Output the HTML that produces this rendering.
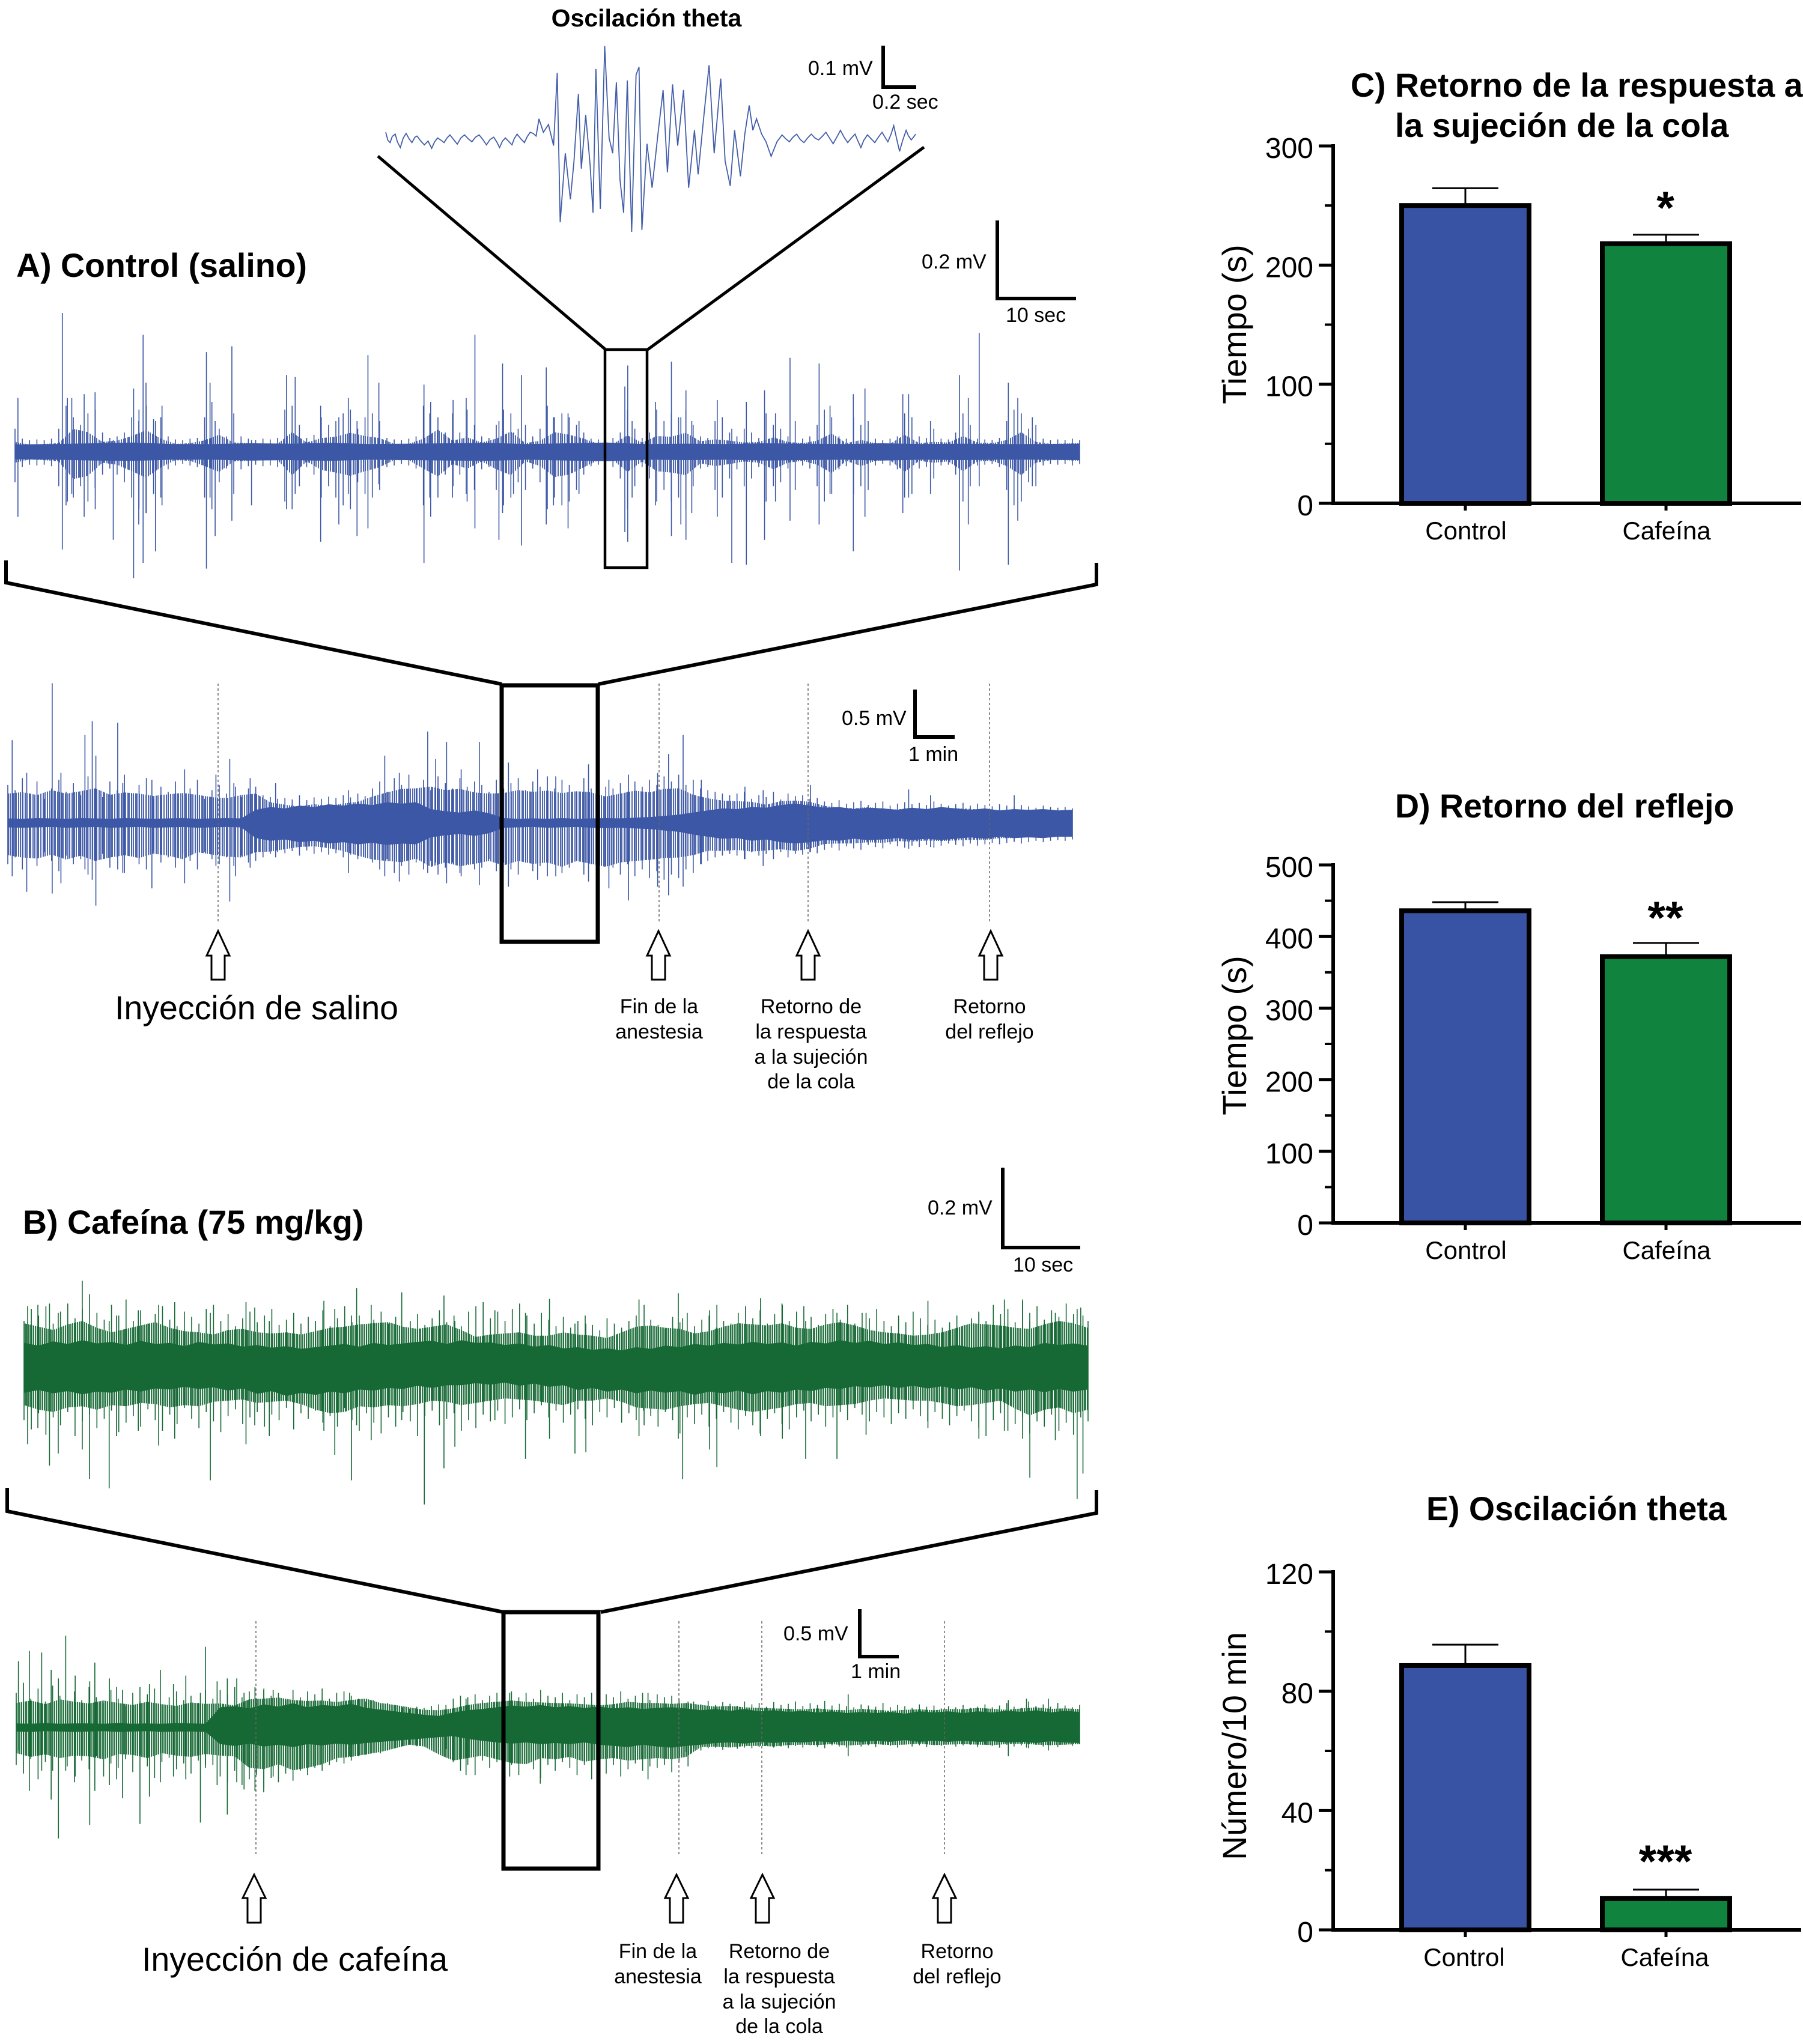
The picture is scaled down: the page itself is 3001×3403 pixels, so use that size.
<!DOCTYPE html>
<html lang="es">
<head>
<meta charset="utf-8">
<title>Oscilación theta: control y cafeína</title>
<style>
html,body{margin:0;padding:0;background:#fff}
svg{display:block}
text{font-family:"Liberation Sans",sans-serif;fill:#000}
.b{font-weight:bold;font-size:55.5px}
.s{font-size:34px}
.c{text-anchor:middle}
.big{font-size:55.5px}
.sb{fill:none;stroke:#000;stroke-width:6}
.dot{stroke:#666;stroke-width:1.5;stroke-dasharray:4 4}
.ar{fill:#fff;stroke:#000;stroke-width:3}
.bx{fill:none;stroke:#000;stroke-width:7}
.zl{fill:none;stroke:#000;stroke-width:5}
</style>
</head>
<body>
<svg id="fig" xmlns="http://www.w3.org/2000/svg" width="3001" height="3403" viewBox="0 0 3001 3403">
<defs>
<pattern id="hatchBlue" patternUnits="userSpaceOnUse" width="41" height="400"><path d="M1 0V400M4 0V400M8 0V400M10 0V400M14 0V400M17 0V400M21 0V400M23 0V400M27 0V400M31 0V400M34 0V400M38 0V400" stroke="#3c57a5" stroke-width="1.8" fill="none"/></pattern>
<pattern id="hatchGreen" patternUnits="userSpaceOnUse" width="41" height="400"><path d="M1 0V400M3 0V400M6 0V400M9 0V400M12 0V400M15 0V400M18 0V400M21 0V400M24 0V400M27 0V400M30 0V400M33 0V400M36 0V400M39 0V400" stroke="#166935" stroke-width="1.8" fill="none"/></pattern>
</defs>
<rect width="3001" height="3403" fill="#fff"/>

<g id="traces"></g>

<!-- Inset -->
<text x="1076" y="44" class="c" style="font-weight:bold;font-size:41px">Oscilación theta</text>
<path class="sb" d="M1470 76V145H1525"/>
<text x="1345" y="125" class="s">0.1 mV</text>
<text x="1452" y="181" class="s">0.2 sec</text>
<path class="zl" d="M629 260L1008 582M1538 245L1078 582"/>
<rect x="1007" y="582" width="70" height="363" fill="none" stroke="#000" stroke-width="4.5"/>

<!-- Panel A -->
<text x="27" y="461" class="b">A) Control (salino)</text>
<path class="sb" d="M1660 367V497H1791"/>
<text x="1534" y="447" class="s">0.2 mV</text>
<text x="1674" y="536" class="s">10 sec</text>
<path class="sb" d="M10 933V970L835 1139M1825 937V973L996 1139"/>
<rect class="bx" x="835" y="1141" width="160" height="427"/>
<path class="sb" d="M1523 1148V1227H1589"/>
<text x="1401" y="1207" class="s">0.5 mV</text>
<text x="1512" y="1267" class="s">1 min</text>
<g>
<line class="dot" x1="363" y1="1138" x2="363" y2="1534"/><line class="dot" x1="1097" y1="1138" x2="1097" y2="1534"/><line class="dot" x1="1345" y1="1138" x2="1345" y2="1534"/><line class="dot" x1="1647" y1="1138" x2="1647" y2="1534"/>
</g>
<polygon class="ar" points="363,1550 382,1591 374,1591 374,1631 352,1631 352,1591 344,1591"/>
<polygon class="ar" points="1096,1550 1115,1591 1107,1591 1107,1631 1085,1631 1085,1591 1077,1591"/>
<polygon class="ar" points="1345,1550 1364,1591 1356,1591 1356,1631 1334,1631 1334,1591 1326,1591"/>
<polygon class="ar" points="1649,1550 1668,1591 1660,1591 1660,1631 1638,1631 1638,1591 1630,1591"/>
<text x="191" y="1697" class="big">Inyección de salino</text>
<text class="s c" x="1097" y="1687">Fin de la<tspan x="1097" dy="42">anestesia</tspan></text>
<text class="s c" x="1350" y="1687">Retorno de<tspan x="1350" dy="42">la respuesta</tspan><tspan x="1350" dy="42">a la sujeción</tspan><tspan x="1350" dy="41">de la cola</tspan></text>
<text class="s c" x="1647" y="1687">Retorno<tspan x="1647" dy="42">del reflejo</tspan></text>

<!-- Panel B -->
<text x="38" y="2054" class="b">B) Cafeína (75 mg/kg)</text>
<path class="sb" d="M1669 1944V2077H1798"/>
<text x="1544" y="2022" class="s">0.2 mV</text>
<text x="1686" y="2117" class="s">10 sec</text>
<path class="sb" d="M12 2477V2516L838 2684M1825 2481V2519L1000 2684"/>
<rect class="bx" x="838" y="2684" width="158" height="427"/>
<path class="sb" d="M1431 2679V2758H1496"/>
<text x="1304" y="2731" class="s">0.5 mV</text>
<text x="1416" y="2794" class="s">1 min</text>
<g>
<line class="dot" x1="426" y1="2699" x2="426" y2="3088"/><line class="dot" x1="1130" y1="2699" x2="1130" y2="3088"/><line class="dot" x1="1268" y1="2699" x2="1268" y2="3088"/><line class="dot" x1="1572" y1="2699" x2="1572" y2="3088"/>
</g>
<polygon class="ar" points="423,3121 442,3160 434,3160 434,3201 412,3201 412,3160 404,3160"/>
<polygon class="ar" points="1126,3121 1145,3160 1137,3160 1137,3201 1115,3201 1115,3160 1107,3160"/>
<polygon class="ar" points="1269,3121 1288,3160 1280,3160 1280,3201 1258,3201 1258,3160 1250,3160"/>
<polygon class="ar" points="1572,3121 1591,3160 1583,3160 1583,3201 1561,3201 1561,3160 1553,3160"/>
<text x="236" y="3281" class="big">Inyección de cafeína</text>
<text class="s c" x="1095" y="3260">Fin de la<tspan x="1095" dy="42">anestesia</tspan></text>
<text class="s c" x="1297" y="3260">Retorno de<tspan x="1297" dy="42">la respuesta</tspan><tspan x="1297" dy="42">a la sujeción</tspan><tspan x="1297" dy="41">de la cola</tspan></text>
<text class="s c" x="1593" y="3260">Retorno<tspan x="1593" dy="42">del reflejo</tspan></text>

<g id="bars"></g>

<!-- Panel titles -->
<text x="2248" y="161" class="b">C) Retorno de la respuesta a</text>
<text x="2322" y="228" class="b">la sujeción de la cola</text>
<text x="2322" y="1361" class="b">D) Retorno del reflejo</text>
<text x="2374" y="2531" class="b">E) Oscilación theta</text>
</svg>

<script>
// ---------- Bar chart data ----------
const barCategories = ['Control', 'Cafeína'];
const panelCValues = [250, 218];
const panelCErrors = [14.5, 7.5];
const panelCTicks = [0, 100, 200, 300];
const panelCMinor = [50, 150, 250];
const panelCStars = '*';
const panelDValues = [436, 372];
const panelDErrors = [12, 19];
const panelDTicks = [0, 100, 200, 300, 400, 500];
const panelDMinor = [50, 150, 250, 350, 450];
const panelDStars = '**';
const panelEValues = [88.6, 10.5];
const panelEErrors = [7, 3];
const panelETicks = [0, 40, 80, 120];
const panelEMinor = [20, 60, 100];
const panelEStars = '***';

// ---------- Trace data (arbitrary amplitude units, relative to baseline) ----------
const thetaTimes = [532,535,538,541,545,548,552,556,560,564,568,572,575,580,585,590,595,599,603,608,612,616,620,625,630,635,640,645,650,655,660,665,670,675,680,684,688,692,696,700,705,708,712,717,722,726,730,734,738,742,748,755,762,767,771,778,785,790,796,800,806,812,816,820,826,832,838,843,848,853,858,863,869,875,879,883,890,897,905,912,918,925,932,940,947,955,960,968,975,982,991,997,1004,1010,1018,1024,1030,1035,1040,1047,1053,1060,1068,1075,1080,1085,1090,1095,1100,1105,1110,1115,1120,1125,1130,1135,1140,1145,1150,1155,1160,1165,1170,1175,1179,1183,1187,1192,1197,1202,1207,1212,1216,1220,1224,1228,1232,1236,1240,1245,1248,1252,1255,1258];
const thetaAmp = [17,-4,-10,6,12,-8,-23,2,14,0,-10,4,7,-6,-16,-6,-25,-8,2,-4,-10,2,10,-2,-14,2,10,0,-8,4,10,-2,-16,-2,4,-8,-23,-6,2,-6,-16,0,12,0,-10,6,17,14,7,52,17,37,-18,172,-218,-38,-158,-58,117,-78,62,-68,-193,182,-183,242,2,-38,147,-108,-193,152,-243,167,187,-238,-13,-128,12,127,-88,142,-18,127,-128,22,-93,62,192,-38,157,-58,-123,22,-98,12,87,22,52,12,-8,-46,-8,10,0,-8,4,12,-2,-10,2,12,2,-3,6,17,2,-13,4,22,4,-10,2,12,-6,-23,-4,10,0,-10,4,17,4,-8,10,34,0,-33,-6,22,8,-3,4,12];

const a1SpikeTimes = [24,85,92,98,115,130,155,183,190,196,200,213,222,283,288,295,318,345,393,405,440,465,478,490,505,520,582,590,622,640,652,685,690,705,716,750,760,780,795,858,862,868,900,922,935,942,950,985,1005,1025,1050,1065,1085,1125,1140,1172,1188,1240,1248,1278,1318,1330,1345,1385,1398,1418];
const a1SpikeUp = [140,362,140,140,150,155,30,165,80,305,180,80,120,260,180,80,275,30,200,195,120,90,140,80,252,180,175,100,135,140,305,80,230,50,200,220,90,100,80,170,225,80,130,235,90,160,80,135,60,130,160,100,245,230,120,150,165,150,150,80,200,140,310,180,140,90];
const a1SpikeDown = [170,255,130,110,170,95,230,330,190,290,160,260,140,305,120,220,180,140,150,110,235,190,110,220,200,85,290,120,90,110,200,230,160,110,245,190,140,200,110,210,235,120,140,220,190,230,160,170,290,295,230,130,180,190,110,260,170,160,120,110,310,190,90,295,180,90];
const a1DenseUp = [60,34,30,32,30,34,60,120,90,70,100,110,50,36,40,50,90,110,120,85,90,40,32,30,34,36,90,130,60,40,100,40,34,30,34,32,36,110,120,70,36,44,90,70,80,100,110,60,90,100,80,36,32,30,34,40,120,130,90,50,100,50,110,70,40,36,70,110,100,60,70,40,60,120,90,100,90,70,50,34,32,34,36,50,110,60,36,50,110,80,100,90,110,70,40,36,80,90,50,40,60,50,36,100,70,60,40,80,34,40,70,110,90,40,34,90,70,80,34,30,34,40,100,90,40,36,60,34,32,50,100,70,34,32,30,36,80,110,100,60,70,34,30,32,30,34,30];
const a1DenseDown = [80,40,34,36,34,38,90,140,120,90,130,150,60,44,60,80,120,150,160,110,120,46,36,32,36,40,120,150,80,44,110,46,38,34,38,36,40,130,150,90,40,60,120,90,120,140,150,80,110,120,100,40,36,32,36,44,140,170,120,60,120,60,130,100,46,40,100,140,120,80,100,44,80,150,120,140,130,100,60,38,34,36,40,70,150,90,40,70,130,100,130,120,150,90,44,40,100,120,70,46,90,70,40,130,90,80,44,100,36,44,90,130,110,46,38,110,90,100,36,32,36,46,120,110,44,40,70,36,34,60,130,90,36,34,32,40,100,140,130,80,90,36,32,34,32,36,32];
const a1FuzzUp = [30,22,24,26,70,60,30,34,48,66,40,24,26,35,52,28,26,24,24,60,28,42,46,58,48,42,24,24,40,68,34,44,28,40,62,26,34,60,52,40,24,24,50,28,48,46,58,32,38,34,28,30,44,30,26,34,56,26,36,26,24,52,26,30,28,48,28,26,36,60,30,24,25,26];
const a1FuzzDown = [34,24,26,30,84,74,34,40,60,80,48,26,28,44,62,30,28,26,26,72,30,56,64,74,60,48,26,26,52,76,38,52,30,54,72,30,44,78,70,48,26,26,62,30,60,64,72,36,44,38,30,34,54,34,28,40,66,28,44,28,26,62,28,34,30,60,30,28,44,72,34,26,26,28];
const a1CoreUp = [19,20,22,24,20,20,22,21,23,20,21,22,23,20,22,24,20,21,20,22,21,20,22,20,21,20,20,21];
const a1CoreDown = [20,21,23,24,21,21,23,22,24,21,22,23,24,21,23,25,21,22,21,23,22,21,23,21,22,21,21,22];

const a2SpikeTimes = [18,38,73,85,118,128,133,163,170,210,255,298,317,325,345,380,480,530,550,589,600,615,635,660,700,740,765,810,838,865,905,920,940,965,1025,1050,1115,1250,1280,1395];
const a2SpikeUp = [240,145,405,145,255,295,195,290,115,125,155,140,185,105,130,115,95,195,145,265,185,235,155,235,175,155,135,170,125,140,145,200,255,125,105,95,110,97,80,80];
const a2SpikeDown = [155,200,205,175,135,165,240,135,145,190,175,125,228,155,130,100,145,155,170,145,115,175,155,180,185,165,155,170,190,225,185,210,185,120,105,125,85,75,70,55];
const a2DenseUp = [110,95,130,85,120,70,100,125,90,115,80,135,100,75,120,95,140,85,110,130,70,105,90,120,80,100,125,70,95,110,85,115,75,100,105,80,75,70,72,68,80,66,74,70,76,72,80,74,85,78,100,120,90,130,110,140,100,125,95,135,115,100,130,105,120,110,90,125,100,115,130,95,120,105,135,100,125,110,90,130,100,120,105,100,115,90,120,105,125,110,135,120,140,110,125,100,95,90,85,80,85,90,70,80,75,90,68,85,78,80,70,72,62,58,66,55,60,64,52,58,62,50,56,60,54,58,52,62,55,50,54,58,50,56,52,48,54,50,46,52,48,44,50,46,44,46,42];
const a2DenseDown = [120,100,135,90,125,85,110,140,95,120,105,150,110,90,130,100,145,95,120,135,80,115,100,130,90,110,135,85,105,120,100,125,95,115,110,100,90,85,88,82,95,80,90,85,92,88,100,92,105,100,115,135,105,145,125,150,115,135,110,150,130,115,145,120,135,130,105,140,115,135,150,115,140,125,155,120,145,130,110,150,120,140,125,130,150,120,155,135,160,140,165,150,160,135,145,120,110,100,95,90,95,105,85,95,90,105,85,100,90,92,85,88,78,72,80,68,74,78,64,70,74,62,68,72,66,70,64,72,66,60,64,68,60,66,62,58,62,58,54,60,56,52,56,52,50,52,48];
const a2FuzzUp = [100,105,95,112,100,108,118,96,104,100,92,98,102,96,88,84,95,100,70,62,56,64,58,66,72,90,104,116,118,124,112,116,104,100,102,112,106,110,102,108,104,90,100,110,104,116,118,96,84,76,74,72,62,74,76,72,58,52,50,54,48,46,52,44,46,50,48,44,42,44,40,40,38,38];
const a2FuzzDown = [110,118,122,108,125,112,130,118,110,120,105,112,124,100,108,115,118,100,98,90,82,80,86,96,112,125,130,134,122,150,135,148,140,130,145,130,140,135,150,130,140,150,135,130,126,120,118,110,95,96,92,98,94,90,96,88,72,70,70,66,68,62,64,60,62,60,58,58,52,52,48,46,44,42];
const a2CoreUp = [13,12,14,13,12,14,13,12,14,13,12,13,14,12,13,14,13,38,46,42,50,46,54,50,56,52,60,56,60,40,34,30,36,28,14,12,13,12,14,12,13,14,13,15,17,20,24,30,36,42,40,46,44,52,56,50,44,46,40,44,42,38,44,40,46,42,38,42,36,40,38,40,36,38];
const a2CoreDown = [13,14,13,12,14,13,12,14,13,12,14,13,12,14,13,12,13,44,52,48,56,52,60,56,62,58,64,60,62,42,36,32,38,30,14,13,12,14,13,12,14,15,14,16,18,22,26,34,40,46,44,52,48,56,60,56,50,52,46,50,48,44,50,46,50,46,42,46,40,44,42,44,40,40];

const b1SpikeTimes = [38,52,68,80,113,123,150,160,190,218,240,289,338,350,370,445,460,483,490,510,552,583,610,625,680,722,755,790,805,878,885,932,938,975,985,1045,1075,1107,1150,1190,1275,1345,1380,1405,1415,1450,1480,1488];
const b1SpikeUp = [225,230,235,200,320,270,170,190,210,230,240,200,240,220,170,245,215,190,293,230,277,130,265,170,210,200,252,160,160,250,230,273,180,210,230,255,230,170,200,200,245,200,250,250,170,200,215,190];
const b1SpikeDown = [290,230,370,325,310,420,455,260,240,295,270,425,290,220,260,240,330,425,220,275,200,515,380,300,200,345,270,325,320,260,220,270,420,310,375,260,270,345,345,255,230,270,240,270,415,275,495,400];
const b1DenseUp = [170,215,190,225,160,205,235,180,215,150,200,175,230,190,250,170,210,160,195,225,175,150,205,185,160,215,230,170,195,150,180,205,165,190,215,155,175,200,160,185,170,210,150,180,225,165,190,150,175,205,160,185,140,170,195,155,180,210,165,190,150,205,225,240,180,205,170,215,235,190,160,200,175,150,185,145,170,190,155,135,180,160,145,170,190,150,175,155,140,185,165,200,150,175,190,145,170,160,200,225,180,210,160,195,235,170,205,225,185,155,195,215,175,230,160,200,180,215,170,150,190,165,205,180,155,175,145,165,190,155,180,205,170,230,195,215,165,240,200,225,175,210,185,235,195,220,170];
const b1DenseDown = [200,235,175,255,190,220,170,260,205,180,230,195,165,245,210,185,225,160,200,240,180,215,155,195,230,170,205,245,185,160,215,190,170,225,180,200,155,235,175,195,165,210,185,225,155,200,240,175,210,250,190,225,170,205,260,185,165,220,195,175,240,200,230,180,205,165,215,190,160,200,175,145,190,165,210,180,160,195,220,170,190,155,210,175,200,165,185,225,170,200,250,190,215,180,225,195,170,210,235,185,220,250,195,175,215,235,190,165,205,180,225,190,170,200,155,180,205,170,190,215,175,195,160,185,205,170,195,220,185,165,205,230,260,200,175,240,215,190,250,205,225,180,240,210,255,190,205];
const b1FuzzUp = [190,175,160,185,200,170,150,165,180,195,170,155,150,140,160,165,150,145,150,140,155,170,175,185,190,195,175,165,175,185,160,130,140,145,150,135,135,150,140,135,125,150,175,180,170,165,145,155,175,190,185,180,190,170,165,185,195,180,160,150,145,135,140,150,170,190,185,180,170,165,185,200,190,170];
const b1FuzzDown = [170,190,200,180,175,190,170,175,160,165,180,170,175,155,150,145,160,155,150,165,190,205,200,175,180,170,175,165,150,155,170,160,150,140,145,150,160,170,150,150,140,155,180,185,190,175,165,160,175,190,200,190,180,165,160,175,170,165,150,140,145,150,150,160,175,170,160,150,185,215,190,180,205,190];
const b1CoreUp = [88,78,94,84,98,86,92,80,96,84,88,76,92,82,86,74,80,70,76,66,72,78,84,74,88,80,86,92,96,84,98,88,90,80,86,74,80,68,72,62,68,60,72,66,78,72,84,78,88,82,92,84,90,78,92,86,98,88,96,84,90,80,84,72,80,70,76,68,78,72,88,80,86,78];
const b1CoreDown = [98,88,100,92,104,94,98,86,94,82,86,76,84,78,90,82,102,92,110,98,106,94,100,86,90,80,84,72,80,70,70,62,68,60,72,64,76,70,88,80,94,86,100,90,98,92,106,94,100,90,104,92,98,86,92,80,84,74,78,70,80,72,82,74,86,78,90,82,94,86,96,84,94,86];

const b2SpikeTimes = [25,40,57,70,80,90,103,123,130,150,160,168,192,205,220,238,255,275,282,298,312,325,335,350,362,375,480,640,700,742,820,890,945,1165,1385,1410,1440];
const b2SpikeUp = [230,265,260,200,170,318,180,160,225,170,140,130,140,150,200,150,180,120,280,160,170,170,120,140,130,130,120,100,120,70,85,120,90,115,95,100,100];
const b2SpikeDown = [80,220,150,250,385,150,170,338,220,200,180,245,335,240,190,170,180,330,130,200,302,190,215,220,225,170,100,165,170,195,190,180,135,100,100,70,80];
const b2DenseUp = [120,155,100,135,90,145,110,80,125,95,140,105,85,130,100,75,120,90,115,135,80,105,125,95,110,85,130,100,130,115,140,105,125,100,135,110,120,95,130,105,125,115,135,100,120,125,110,100,90,95,80,85,75,70,65,72,68,75,80,78,100,110,105,115,95,110,120,115,125,105,120,100,130,110,105,120,95,115,105,120,100,115,105,125,100,110,120,95,115,105,110,100,85,90,80,92,78,88,82,75,90,80,85,72,88,78,82,90,75,84,78,92,76,82,74,70,80,76,72,85,70,78,74,68,80,72,76,66,74,70,78,68,72,80,70,76,85,72,68,90,75,80,72,85,76,70,78];
const b2DenseDown = [130,160,110,180,120,150,105,135,190,115,145,100,170,125,140,110,155,95,135,175,120,105,145,125,160,115,140,130,170,190,150,200,180,165,210,175,190,160,185,150,165,140,150,130,120,125,115,100,95,85,90,80,70,65,60,65,60,62,70,75,120,150,130,165,115,140,120,150,130,165,125,145,175,130,150,120,140,165,130,180,135,160,130,170,145,125,150,135,140,130,155,120,85,75,80,72,70,78,66,74,70,72,68,62,70,66,72,64,70,62,68,72,62,66,70,60,66,62,68,60,64,70,58,66,62,68,60,64,58,66,62,60,68,58,64,70,60,66,62,72,60,66,62,68,60,64,58];
const b2FuzzUp = [100,110,95,115,105,98,110,100,92,105,95,88,102,96,98,90,115,118,122,112,108,110,104,112,118,100,92,82,72,70,78,92,100,105,110,105,102,100,98,95,90,95,105,100,100,96,100,92,85,88,82,80,78,76,74,78,72,70,76,72,68,72,74,70,76,74,80,76,72,78,82,76,78,75];
const b2FuzzDown = [105,120,110,125,115,118,130,108,112,125,105,115,120,108,115,118,165,170,150,175,165,150,125,120,110,100,85,70,78,110,135,125,115,130,145,150,125,130,120,140,130,125,135,130,125,130,120,80,78,82,76,75,78,72,70,72,68,74,70,68,72,70,66,72,70,68,70,72,68,66,70,72,70,68];
const b2CoreUp = [14,13,15,13,14,14,13,15,13,14,13,15,14,13,70,74,66,80,72,84,70,78,74,82,68,62,56,50,44,40,52,60,64,70,76,72,78,70,74,68,72,66,70,64,68,70,66,60,64,58,64,56,60,54,58,52,56,50,54,50,54,48,56,52,56,50,56,52,58,54,60,52,58,54];
const b2CoreDown = [14,15,13,14,15,14,13,15,14,13,15,14,14,15,58,64,56,66,60,68,58,62,56,60,54,50,46,42,38,34,30,40,46,52,56,52,58,54,58,52,60,64,68,60,66,70,64,60,54,52,56,50,54,50,52,48,52,46,50,46,50,44,50,46,50,46,50,48,52,50,54,48,52,54];

// ---------- Drawing helpers ----------
const SVGNS = 'http://www.w3.org/2000/svg';
function mk(tag, attrs, parent) {
  const el = document.createElementNS(SVGNS, tag);
  for (const k in attrs) el.setAttribute(k, attrs[k]);
  parent.appendChild(el);
  return el;
}
function linearScale(d0, d1, r0, r1) {
  return v => r0 + (v - d0) * (r1 - r0) / (d1 - d0);
}
function envelopePoints(up, down, sx, sy, d0, d1, gain) {
  const pts = [];
  up.forEach((v, i) => {
    const t = d0 + i * (d1 - d0) / (up.length - 1);
    pts.push(sx(t).toFixed(1) + ',' + sy(v * gain).toFixed(1));
  });
  for (let i = down.length - 1; i >= 0; i--) {
    const t = d0 + i * (d1 - d0) / (down.length - 1);
    pts.push(sx(t).toFixed(1) + ',' + sy(-down[i] * gain).toFixed(1));
  }
  return pts.join(' ');
}
function drawTrace(name, d0, d1, x0, x1, base, ky, color, hatch, times, up, down, denseUp, denseDown, fuzzUp, fuzzDown, coreUp, coreDown) {
  const root = document.getElementById('traces');
  const sx = linearScale(d0, d1, x0, x1);
  const sy = v => base - v * ky;
  const g = mk('g', {}, root);
  
  
  const fuzz = mk('polygon', { points: envelopePoints(fuzzUp, fuzzDown, sx, sy, d0, d1, 0.85), fill: 'url(#' + hatch + ')' }, g);
  
  
  const nDense = Math.min(denseUp.length, denseDown.length);
  for (let i = 0; i < nDense; i++) {
    const t = d0 + i * (d1 - d0) / (nDense - 1);
    const dense = mk('line', { x1: sx(t), x2: sx(t), y1: sy(denseUp[i]), y2: sy(-denseDown[i]), stroke: color, 'stroke-width': 1.6 }, g);
    
    
  }
  times.forEach((t, i) => {
    const spike = mk('line', { x1: sx(t), x2: sx(t), y1: sy(up[i]), y2: sy(-down[i]), stroke: color, 'stroke-width': 1.6 }, g);
    
    
  });
  const core = mk('polygon', { points: envelopePoints(coreUp, coreDown, sx, sy, d0, d1, 1), fill: color }, g);
  
  
}

drawTrace('trace-control-10-sec', 20, 1483, 25, 1797, 752, 0.638, '#3c57a5', 'hatchBlue', a1SpikeTimes, a1SpikeUp, a1SpikeDown, a1DenseUp, a1DenseDown, a1FuzzUp, a1FuzzDown, a1CoreUp, a1CoreDown);
drawTrace('trace-control-1-min', 12, 1475, 13, 1785, 1370, 0.574, '#3c57a5', 'hatchBlue', a2SpikeTimes, a2SpikeUp, a2SpikeDown, a2DenseUp, a2DenseDown, a2FuzzUp, a2FuzzDown, a2CoreUp, a2CoreDown);
drawTrace('trace-cafeina-10-sec', 33, 1495, 40, 1811, 2275, 0.446, '#166935', 'hatchGreen', b1SpikeTimes, b1SpikeUp, b1SpikeDown, b1DenseUp, b1DenseDown, b1FuzzUp, b1FuzzDown, b1CoreUp, b1CoreDown);
drawTrace('trace-cafeina-1-min', 22, 1483, 27, 1797, 2876, 0.48, '#166935', 'hatchGreen', b2SpikeTimes, b2SpikeUp, b2SpikeDown, b2DenseUp, b2DenseDown, b2FuzzUp, b2FuzzDown, b2CoreUp, b2CoreDown);

(function drawTheta() {
  const sx = linearScale(532, 1258, 642, 1524);
  const sy = v => 231 - v * 0.638;
  const line = mk('polyline', {
    points: thetaTimes.map((t, i) => sx(t).toFixed(1) + ',' + sy(thetaAmp[i]).toFixed(1)).join(' '),
    fill: 'none', stroke: '#425da8', 'stroke-width': 1.8
  }, document.getElementById('traces'));
  
  
})();

function drawBars(name, yTop, yZero, maxV, title, titleY, titleSize, values, errors, ticks, minor, stars, starY, labelShift) {
  const root = document.getElementById('bars');
  const g = mk('g', {}, root);
  
  
  const sy = linearScale(0, maxV, yZero, yTop);
  const axisX = 2219;
  const center = i => 2439 + i * 334;
  const fills = ['#3953a4', '#10833f'];
  const barW = 212;

  values.forEach((v, i) => {
    const cx = center(i);
    const stem = mk('line', { x1: cx, x2: cx, y1: sy(v), y2: sy(v + errors[i]), stroke: '#000', 'stroke-width': 3 }, g);
    
    
    const cap = mk('line', { x1: cx - 55, x2: cx + 55, y1: sy(v + errors[i]), y2: sy(v + errors[i]), stroke: '#000', 'stroke-width': 3 }, g);
    
    
    const bar = mk('rect', { x: cx - barW / 2, y: sy(v), width: barW, height: yZero - sy(v), fill: fills[i], stroke: '#000', 'stroke-width': 8 }, g);
    
    
    const tick = mk('line', { x1: cx, x2: cx, y1: yZero, y2: yZero + 12, stroke: '#000', 'stroke-width': 5 }, g);
    
    
    const lab = mk('text', { x: cx + 1 + labelShift, y: yZero + 60, 'text-anchor': 'middle', 'font-size': 42 }, g);
    
    
    lab.textContent = barCategories[i];
  });

  const yAxis = mk('line', { x1: axisX, x2: axisX, y1: yTop - 3, y2: yZero + 3, stroke: '#000', 'stroke-width': 6 }, g);
  
  
  const xAxis = mk('line', { x1: axisX, x2: 2998, y1: yZero, y2: yZero, stroke: '#000', 'stroke-width': 6 }, g);
  
  

  ticks.forEach(t => {
    const tl = mk('line', { x1: 2195, x2: axisX, y1: sy(t), y2: sy(t), stroke: '#000', 'stroke-width': 5 }, g);
    
    
    const lb = mk('text', { x: 2186, y: sy(t) + 20, 'text-anchor': 'end', 'font-size': 48 }, g);
    
    
    lb.textContent = t;
  });
  minor.forEach(t => {
    const tl = mk('line', { x1: 2205, x2: axisX, y1: sy(t), y2: sy(t), stroke: '#000', 'stroke-width': 4 }, g);
    
    
  });

  const yTitle = mk('text', { transform: 'translate(2074 ' + titleY + ') rotate(-90)', 'text-anchor': 'middle', 'font-size': titleSize }, g);
  
  
  yTitle.textContent = title;

  const st = mk('text', { x: center(1) - 1, y: starY + 34, 'text-anchor': 'middle', 'font-size': 76, 'font-weight': 'bold' }, g);
  
  
  st.textContent = stars;
}

drawBars('chart-retorno-sujecion', 243, 838, 300, 'Tiempo (s)', 540, 56, panelCValues, panelCErrors, panelCTicks, panelCMinor, panelCStars, 338, 0);
drawBars('chart-retorno-reflejo', 1440, 2036, 500, 'Tiempo (s)', 1724, 56, panelDValues, panelDErrors, panelDTicks, panelDMinor, panelDStars, 1520, 0);
drawBars('chart-oscilacion-theta', 2617, 3213, 120, 'Número/10 min', 2907, 55.5, panelEValues, panelEErrors, panelETicks, panelEMinor, panelEStars, 3091, -3);
</script>
</body>
</html>
